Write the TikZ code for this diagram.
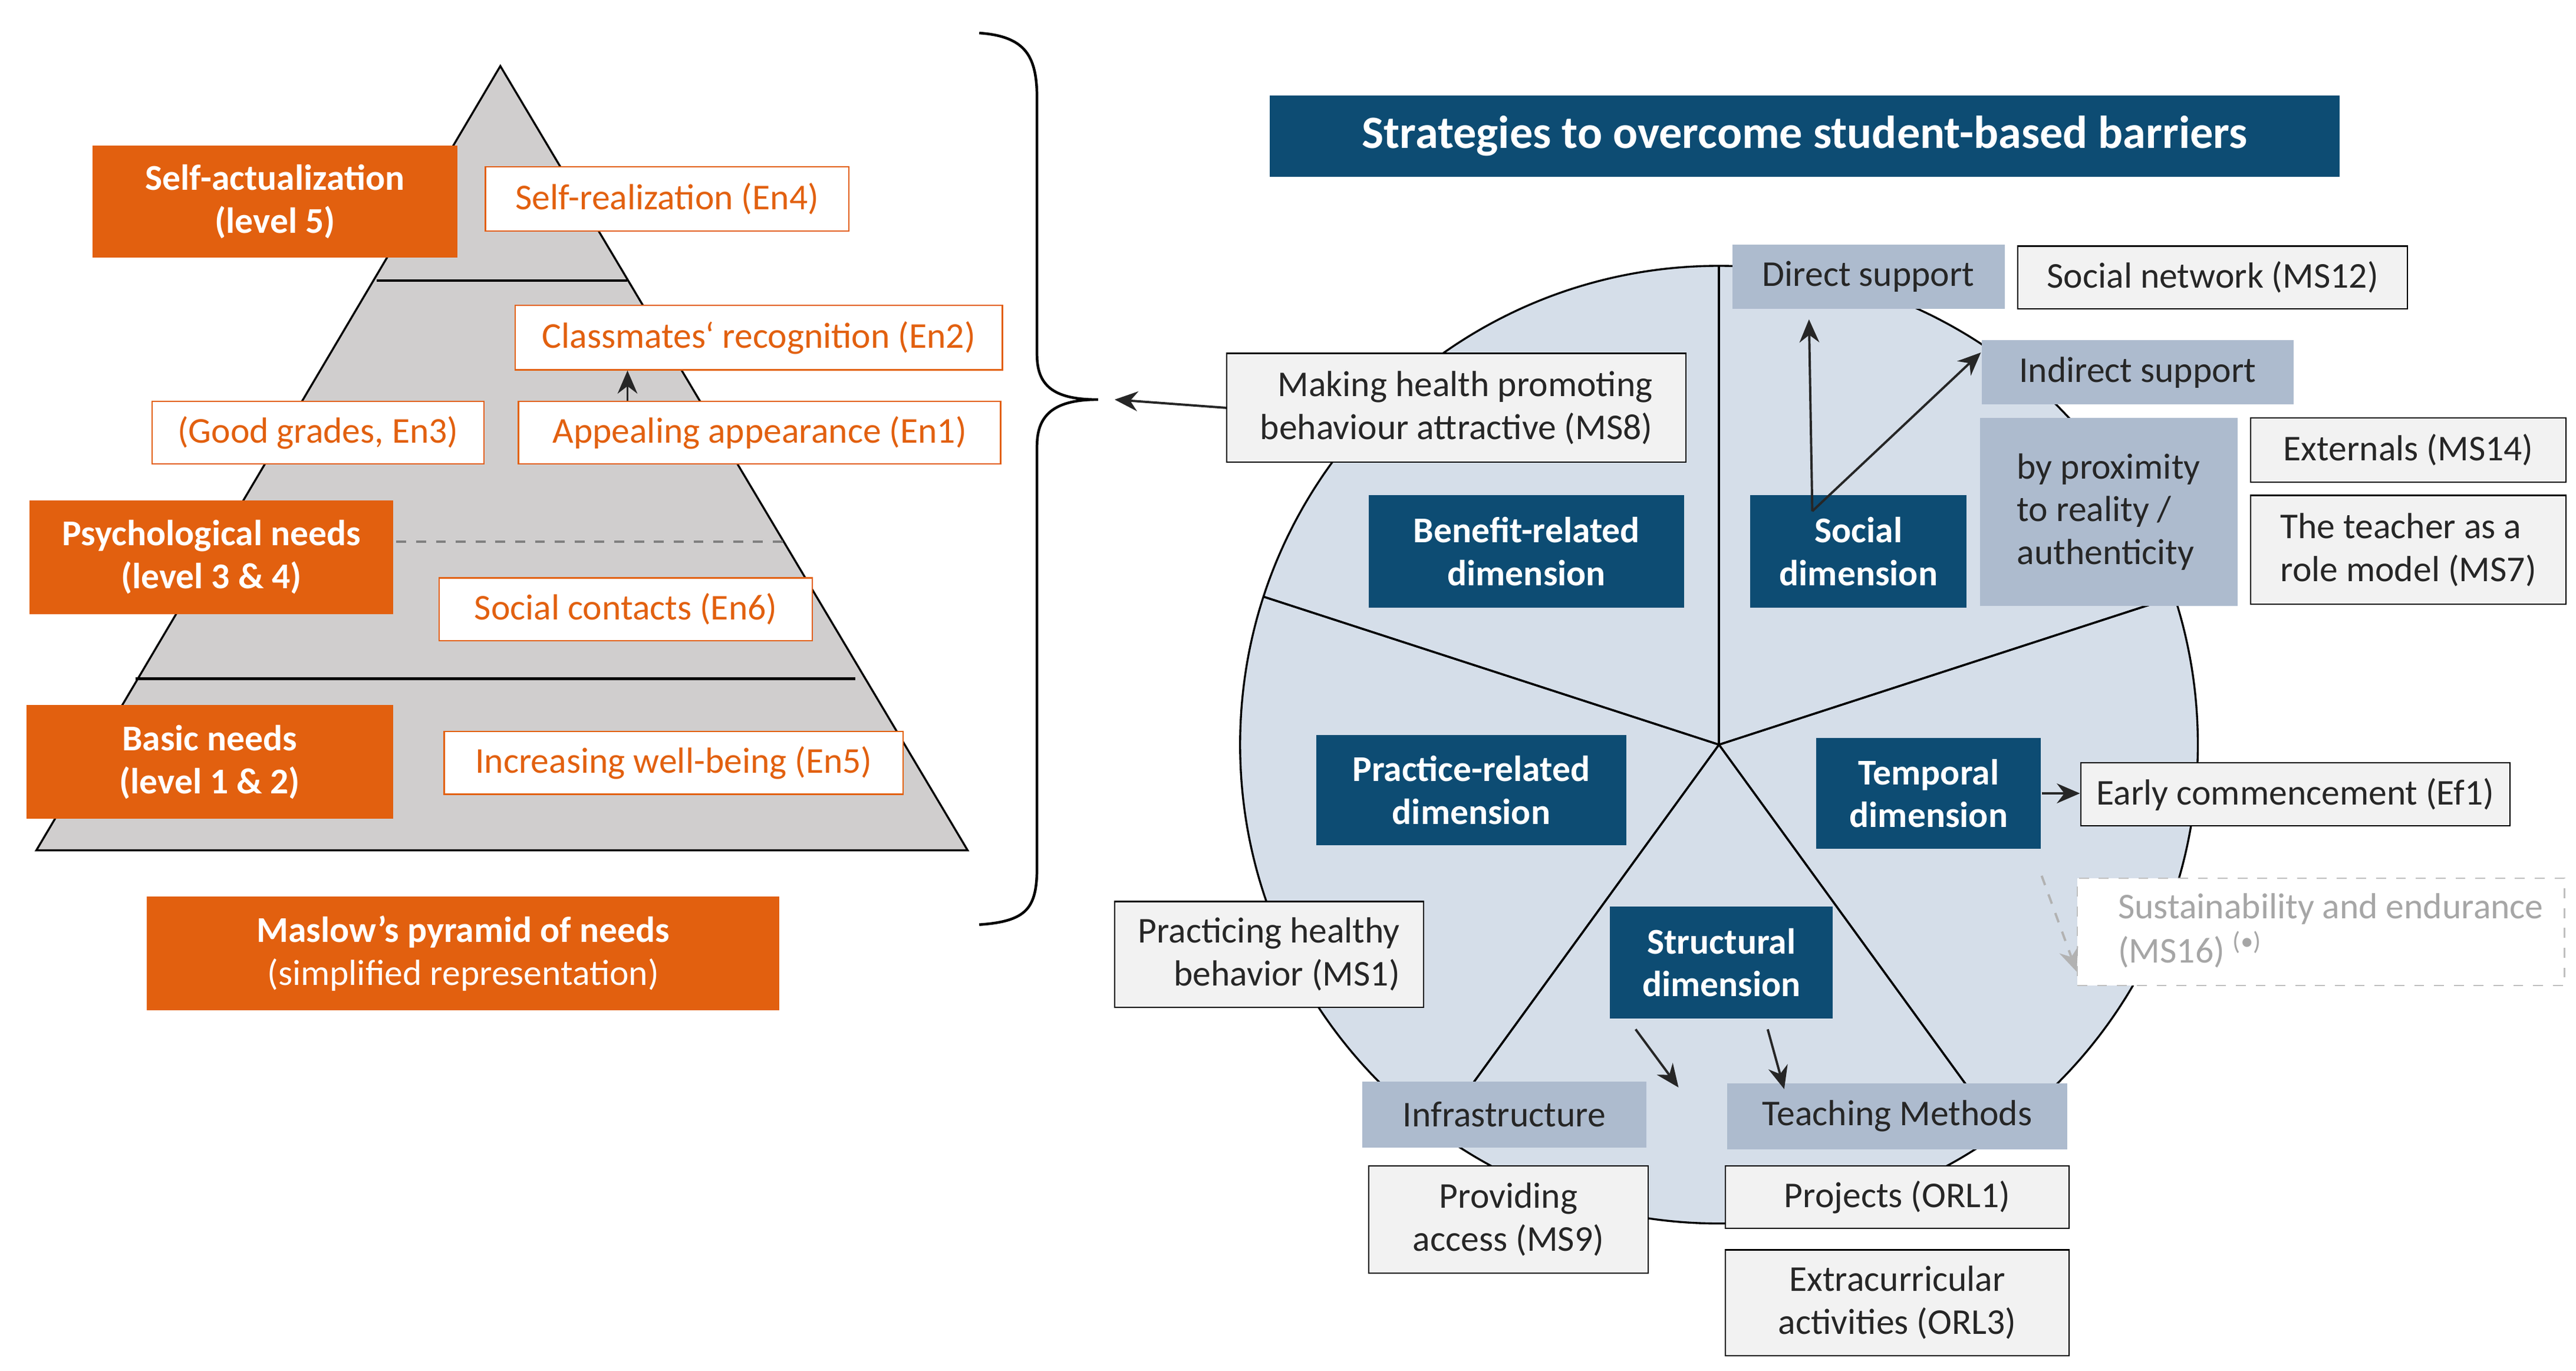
\documentclass[tikz,border=0pt]{standalone}
\usepackage{fontspec}
\setmainfont{Carlito}
\usetikzlibrary{arrows.meta}
\definecolor{org}{HTML}{E2600F}
\definecolor{dblue}{HTML}{0D4C73}
\definecolor{gblue}{HTML}{ADBBCE}
\definecolor{cfill}{HTML}{D5DEE9}
\definecolor{pfill}{HTML}{D0CECE}
\definecolor{wfill}{HTML}{F2F2F2}
\newcommand\bx[7]{\node[#6, minimum width={(#4-#2)*0.5pt}, minimum height={(#5-#3)*0.5pt}] (#1) at ({(#2+#4)/2},{(#3+#5)/2}) {#7};}
\begin{document}
\begin{tikzpicture}[x=0.5pt,y=-0.5pt,
 base/.style={rectangle,inner sep=0pt,align=center,font=\fontsize{11}{13}\selectfont},
 orb/.style={base,fill=org,text=white,font=\fontsize{11}{13}\selectfont\bfseries},
 orw/.style={base,fill=white,draw=org,text=org},
 dbb/.style={base,fill=dblue,text=white,font=\fontsize{11}{13}\selectfont\bfseries},
 gbb/.style={base,fill=gblue,text=black!85},
 wb/.style={base,fill=wfill,draw=black,text=black!85},
 arr/.style={-{Stealth[length=7pt,width=6pt]},black!85,line width=0.7pt}]
\useasboundingbox (0,0) rectangle (1560,830);
% pyramid
\draw[fill=pfill,line width=0.6pt] (303,40) -- (586,515) -- (22,515) -- cycle;
\draw[line width=0.8pt] (228,170) -- (380,170);
\draw[line width=0.8pt] (82,411) -- (518,411);
\draw[dashed,gray,line width=0.8pt] (240,328) -- (478,328);
\bx{sa}{56}{88}{277}{156}{orb}{Self-actualization\\(level 5)}
\bx{ps}{18}{303}{238}{372}{orb}{Psychological needs\\(level 3 \& 4)}
\bx{bn}{16}{427}{238}{496}{orb}{Basic needs\\(level 1 \& 2)}
\bx{mp}{89}{543}{472}{612}{orb}{Maslow’s pyramid of needs\\\mdseries(simplified representation)}
\bx{en4}{294}{101}{514}{140}{orw}{Self-realization (En4)}
\bx{en2}{312}{185}{607}{224}{orw}{Classmates‘ recognition (En2)}
\bx{en1}{314}{243}{606}{281}{orw}{Appealing appearance (En1)}
\bx{en3}{92}{243}{293}{281}{orw}{(Good grades, En3)}
\bx{en6}{266}{350}{492}{388}{orw}{Social contacts (En6)}
\bx{en5}{269}{443}{547}{481}{orw}{Increasing well-being (En5)}
\draw[arr] ([xshift=-40pt]en1.north) -- ([xshift=-40pt]en1.north |- en2.south);
% brace
\draw[line width=0.8pt] (593,20) .. controls (622,22) and (628,35) .. (628,60) -- (628,215) .. controls (628,235) and (640,242) .. (665,242) .. controls (640,242) and (628,250) .. (628,270) -- (628,525) .. controls (628,550) and (622,558) .. (593,560);
\coordinate (br) at (675,242);
% title
\bx{tt}{769}{58}{1417}{107}{base}{}
\node[dbb,fill=dblue,minimum width=324pt,minimum height=24.5pt,font=\fontsize{14}{16}\selectfont\bfseries] at (1093,82.5) {Strategies to overcome student-based barriers};
% circle
\coordinate (c) at (1041,451);
\draw[fill=cfill,line width=0.6pt] (c) circle[radius=290];
\foreach \a in {90,162,234,306,18} \draw[line width=0.6pt] (c) -- ++(\a:-290);
\foreach \a in {90,162,234,306,18} \draw[line width=0.6pt] (c) -- +({290*cos(\a)},{-290*sin(\a)});
\bx{ben}{829}{300}{1020}{368}{dbb}{Benefit-related\\dimension}
\bx{soc}{1060}{300}{1191}{368}{dbb}{Social\\dimension}
\bx{pra}{797}{445}{985}{512}{dbb}{Practice-related\\dimension}
\bx{tem}{1100}{447}{1236}{514}{dbb}{Temporal\\dimension}
\bx{str}{975}{549}{1110}{617}{dbb}{Structural\\dimension}
\bx{dir}{1049}{148}{1214}{187}{gbb}{Direct support}
\bx{ind}{1200}{206}{1389}{245}{gbb}{Indirect support}
\bx{prox}{1199}{253}{1355}{367}{gbb,align=left}{by proximity\\to reality /\\authenticity}
\bx{inf}{825}{655}{997}{695}{gbb}{Infrastructure}
\bx{tea}{1046}{656}{1252}{696}{gbb}{Teaching Methods}
\bx{ms12}{1222}{149}{1458}{187}{wb}{Social network (MS12)}
\bx{ms8}{743}{214}{1021}{280}{wb,align=right}{Making health promoting\\behaviour attractive (MS8)}
\bx{ms14}{1363}{253}{1554}{292}{wb}{Externals (MS14)}
\bx{ms7}{1363}{300}{1554}{366}{wb,align=left}{The teacher as a\\role model (MS7)}
\bx{ef1}{1260}{462}{1520}{500}{wb}{Early commencement (Ef1)}
\bx{ms16}{1258}{532}{1553}{597}{base,fill=white,draw=gray!50,dashed,text=gray!70}{\hspace*{6pt}\begin{tabular}{@{}l@{}}Sustainability and endurance\\(MS16) \textsuperscript{(•)}\end{tabular}\hfill}
\bx{ms1}{675}{546}{862}{610}{wb,align=right}{Practicing healthy\\behavior (MS1)}
\bx{ms9}{829}{706}{998}{771}{wb}{Providing\\access (MS9)}
\bx{orl1}{1045}{706}{1253}{744}{wb}{Projects (ORL1)}
\bx{orl3}{1045}{757}{1253}{821}{wb}{Extracurricular\\activities (ORL3)}
% arrows
\draw[arr] (ms8.west) -- (br);
\draw[arr] ([xshift=-14pt,yshift=-5pt]soc.north) -- ([xshift=-18pt,yshift=-3pt]dir.south);
\draw[arr] ([xshift=-14pt,yshift=-5pt]soc.north) -- ([yshift=6pt]ind.west);
\draw[arr] (tem.east) -- (tem.east -| ef1.west);
\draw[arr,dashed,gray!60] ([yshift=-8pt]tem.south east) -- ([yshift=-12pt]ms16.west);
\draw[arr] ([xshift=-26pt,yshift=-3pt]str.south) -- ([xshift=-13pt,yshift=-2pt]str.south |- inf.north);
\draw[arr] ([xshift=14pt,yshift=-3pt]str.south) -- ([xshift=19pt,yshift=-2pt]str.south |- tea.north);
\end{tikzpicture}
\end{document}
